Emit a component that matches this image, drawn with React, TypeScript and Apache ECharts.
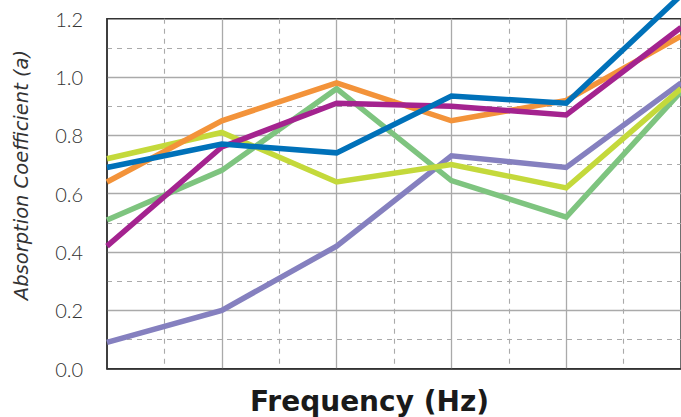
import React, { useEffect, useRef } from "react";
import * as echarts from "echarts";

const frequencies = ["125", "250", "500", "1000", "2000", "4000"];
const yTicks = [0, 0.2, 0.4, 0.6, 0.8, 1.0, 1.2];

const lavender = [0.09, 0.2, 0.42, 0.73, 0.69, 0.98];
const green = [0.51, 0.68, 0.96, 0.645, 0.52, 0.95];
const yellow = [0.72, 0.81, 0.64, 0.7, 0.62, 0.96];
const orange = [0.64, 0.85, 0.98, 0.85, 0.92, 1.14];
const magenta = [0.42, 0.76, 0.91, 0.9, 0.87, 1.17];
const blue = [0.69, 0.77, 0.74, 0.935, 0.91, 1.28];

const seriesList = [
  { name: "Material 1", values: lavender, color: "#8580BF" },
  { name: "Material 2", values: green, color: "#7EC47F" },
  { name: "Material 3", values: yellow, color: "#C4D93B" },
  { name: "Material 4", values: orange, color: "#F3933A" },
  { name: "Material 5", values: magenta, color: "#A4238F" },
  { name: "Material 6", values: blue, color: "#0071B9" },
];

export default function App() {
  const ref = useRef<HTMLDivElement>(null);
  useEffect(() => {
    document.body.style.margin = "0";
    const chart = echarts.init(ref.current!, null, { renderer: "svg" });
    chart.setOption({
      animation: false,
      grid: {
        left: 107,
        right: -6,
        top: 18.7,
        bottom: 417 - 368.7,
        show: true,
        borderColor: "#333",
        borderWidth: 1.5,
        backgroundColor: "transparent",
      },
      xAxis: {
        type: "value",
        min: 0,
        max: frequencies.length - 1,
        interval: 1,
        axisLabel: { show: false },
        axisTick: { show: false },
        axisLine: { show: true, lineStyle: { color: "#333", width: 1.5 } },
        minorTick: { show: false, splitNumber: 2 },
        splitLine: {
          show: true,
          showMinLine: false,
          lineStyle: { color: "#aaa", width: 1.3, type: "solid" },
        },
        minorSplitLine: {
          show: true,
          lineStyle: { color: "#aaa", width: 1.1, type: [5, 5] },
        },
      },
      yAxis: {
        type: "value",
        min: yTicks[0],
        max: yTicks[yTicks.length - 1],
        interval: 0.2,
        axisLabel: {
          formatter: (v: number) => v.toFixed(1),
          fontFamily: "Lato",
          fontWeight: 300,
          fontSize: 20,
          color: "#333",
          margin: 24,
        },
        axisTick: { show: false },
        axisLine: { show: true, lineStyle: { color: "#333", width: 1.5 } },
        minorTick: { show: false, splitNumber: 2 },
        splitLine: {
          show: true,
          showMinLine: false,
          showMaxLine: false,
          lineStyle: { color: "#aaa", width: 1.3, type: "solid" },
        },
        minorSplitLine: {
          show: true,
          lineStyle: { color: "#aaa", width: 1.1, type: [5, 5] },
        },
      },
      graphic: [
        {
          type: "text",
          x: 21,
          y: 175,
          rotation: Math.PI / 2,
          style: {
            text: "Absorption Coefficient (a)",
            fontFamily: "DejaVu Sans",
            fontStyle: "italic",
            fontSize: 19.5,
            fill: "#333",
            textAlign: "center",
            textVerticalAlign: "middle",
          },
        },
        {
          type: "text",
          x: 369.5,
          y: 401,
          style: {
            text: "Frequency (Hz)",
            fontFamily: "DejaVu Sans",
            fontWeight: "bold",
            fontSize: 28,
            fill: "#1a1a1a",
            textAlign: "center",
            textVerticalAlign: "middle",
          },
        },
      ],
      series: seriesList.map((s) => ({
        name: s.name,
        type: "line",
        data: s.values.map((v, i) => [i, v]),
        symbol: "none",
        clip: false,
        lineStyle: { color: s.color, width: 5.5, join: "miter", cap: "butt" },
        itemStyle: { color: s.color },
      })),
    });
    return () => chart.dispose();
  }, []);
  return <div ref={ref} style={{ width: 681, height: 417 }} />;
}
